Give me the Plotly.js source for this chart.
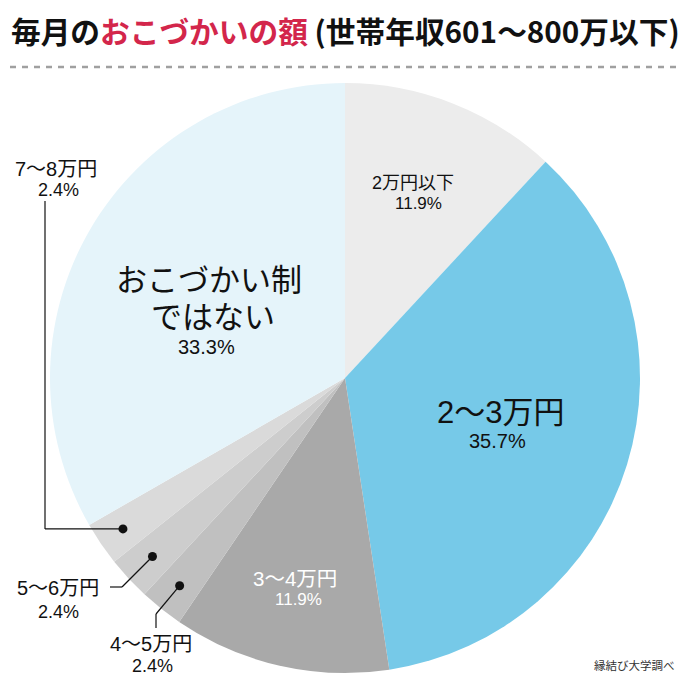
<!DOCTYPE html>
<html><head><meta charset="utf-8">
<script src="https://cdn.plot.ly/plotly-3.0.1.min.js"></script>
<style>html,body{margin:0;padding:0;background:#fff;}#chart{width:690px;height:684px;}</style>
</head><body><div id="chart"></div>
<script>
const categories = ["2万円以下", "2〜3万円", "3〜4万円", "4〜5万円", "5〜6万円", "7〜8万円", "おこづかい制ではない"];
const values = [11.9, 35.7, 11.9, 2.4, 2.4, 2.4, 33.3];
const colors = ["#ececec", "#76c9e8", "#a9a9a9", "#c0c0c0", "#cdcdcd", "#dadada", "#e5f4fa"];

const W = 690, H = 684;
const cx = 345, cy = 378, R = 295;
const FONT = '"Liberation Sans", Arial, "Noto Sans CJK JP", sans-serif';
const TFONT = '"Noto Sans CJK JP", "Noto Sans", sans-serif';
const px = x => x / W, py = y => 1 - y / H;

// mid-angle of each slice (clockwise from top)
const total = values.reduce((a, b) => a + b, 0);
let acc = 0;
const mids = values.map(v => { const m = (acc + v / 2) / total; acc += v; return m * 2 * Math.PI; });
const pt = (i, f) => [cx + Math.sin(mids[i]) * R * f, cy - Math.cos(mids[i]) * R * f];

const annotations = [];
const shapes = [];
function txt(x, y, text, size, color, extra, fam) {
  annotations.push(Object.assign({x: px(x), y: py(y), xref: 'paper', yref: 'paper', text: text, showarrow: false,
    font: {family: fam || FONT, size: size, color: color || '#111'}, xanchor: 'center', yanchor: 'middle'}, extra || {}));
}
function line(x0, y0, x1, y1) {
  shapes.push({type: 'line', xref: 'paper', yref: 'paper', x0: px(x0), y0: py(y0), x1: px(x1), y1: py(y1), line: {color: '#111', width: 1.2}});
}
function dot(x, y) {
  const r = 4.5;
  shapes.push({type: 'circle', xref: 'paper', yref: 'paper', x0: px(x - r), x1: px(x + r), y0: py(y + r), y1: py(y - r), fillcolor: '#111', line: {width: 0}});
}
const pct = i => values[i].toFixed(1) + '%';

// Title
txt(9, 30, '<b>毎月の<span style="color:#d3264b">おこづかいの額</span> (世帯年収601〜800万以下)</b>', 29.7, '#111', {xanchor: 'left'}, TFONT);
shapes.push({type: 'line', xref: 'paper', yref: 'paper', x0: px(10), x1: px(682), y0: py(67), y1: py(67), line: {color: '#a0a0a0', width: 2.5, dash: '6px,6px'}});

// Inside labels
txt(413, 183, categories[0], 18);
txt(418, 203, pct(0), 17);
txt(500, 412, categories[1], 31);
txt(497, 441, pct(1), 20);
txt(295, 578, categories[2], 20.5, '#fff');
txt(298, 599, pct(2), 17, '#fff');
txt(209, 280, 'おこづかい制', 31);
txt(213, 317, 'ではない', 31);
txt(206, 347, pct(6), 20);

// Outside labels with leaders
const d6 = pt(5, 0.91);
dot(d6[0], d6[1]);
line(d6[0], d6[1], 45, d6[1]);
line(45, d6[1], 45, 201);
txt(56, 169, categories[5], 20);
txt(58, 190, pct(5), 18);

const d5 = pt(4, 0.89);
dot(d5[0], d5[1]);
line(d5[0], d5[1], 122, 587);
line(122, 587, 110, 587);
txt(58, 588, categories[4], 20);
txt(58, 612, pct(4), 18);

const d4 = pt(3, 0.9);
dot(d4[0], d4[1]);
line(d4[0], d4[1], 156, 614);
line(156, 614, 156, 628);
txt(151, 644, categories[3], 20);
txt(152, 666, pct(3), 18);

// Source
txt(677, 665, '縁結び大学調べ', 11.5, '#333', {xanchor: 'right'}, TFONT);

const data = [{
  type: 'pie', labels: categories, values: values, sort: false, direction: 'clockwise', rotation: 0,
  marker: {colors: colors, line: {width: 0}}, textinfo: 'none', hoverinfo: 'label+percent',
  domain: {x: [px(cx - R), px(cx + R)], y: [py(cy + R), py(cy - R)]}, showlegend: false
}];
const layout = {width: W, height: H, margin: {l: 0, r: 0, t: 0, b: 0}, paper_bgcolor: '#fff', plot_bgcolor: '#fff',
  showlegend: false, annotations: annotations, shapes: shapes, font: {family: FONT}};
Plotly.newPlot('chart', data, layout, {displayModeBar: false, staticPlot: true});
</script></body></html>
